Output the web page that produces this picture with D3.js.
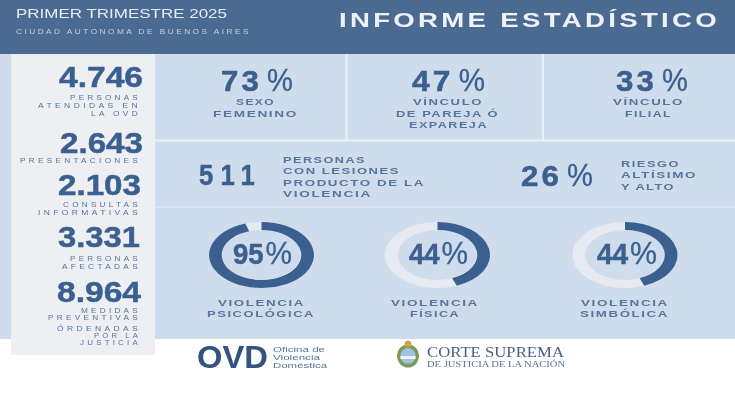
<!DOCTYPE html>
<html><head><meta charset="utf-8">
<script src="https://cdn.jsdelivr.net/npm/d3@7"></script>
<style>html,body{margin:0;background:#fff}svg{display:block}text{font-family:"Liberation Sans",sans-serif}</style>
</head><body><svg id="c" width="735" height="400"></svg>
<script>
const statValues=["4.746","2.643","2.103","3.331","8.964"];
const statLabels=[["PERSONAS","ATENDIDAS EN","LA OVD"],["PRESENTACIONES"],["CONSULTAS","INFORMATIVAS"],["PERSONAS","AFECTADAS"],["MEDIDAS","PREVENTIVAS","ÓRDENADAS","POR LA","JUSTICIA"]];
const topValues=[73,47,33];
const topLabels=[["SEXO","FEMENINO"],["VÍNCULO","DE PAREJA Ó","EXPAREJA"],["VÍNCULO","FILIAL"]];
const injuredValue=511;
const injuredLabel=["PERSONAS","CON LESIONES","PRODUCTO DE LA","VIOLENCIA"];
const riskValue=26;
const riskLabel=["RIESGO","ALTÍSIMO","Y ALTO"];
const ringValues=[95,44,44];
const ringLabels=[["VIOLENCIA","PSICOLÓGICA"],["VIOLENCIA","FÍSICA"],["VIOLENCIA","SIMBÓLICA"]];

const DARK="#3b6090",MID="#56759c",HEAD="#4a6a91",PANEL="#cfdcec",SIDE="#edeff3";
const svg=d3.select("#c");
const defs=svg.append("defs");
defs.append("filter").attr("id","b").append("feGaussianBlur").attr("stdDeviation",0.4);
const rect=(x,y,w,h,f)=>svg.append("rect").attr("x",x).attr("y",y).attr("width",w).attr("height",h).attr("fill",f);
rect(0,0,735,54,HEAD);
rect(0,54,735,285,PANEL);
rect(11,54,144,301,SIDE);
rect(155,139.5,580,2,"#eaf0f7");
rect(155,206.5,580,1.5,"#dce6f2");
rect(345.5,54,2,86,"#eaf0f7");
rect(542,54,2,86,"#eaf0f7");

const layer=svg.append("g").attr("filter","url(#b)");
function t(s,x0,x1,y,size,fill,weight,family){
  const n=layer.append("text").attr("x",x0).attr("y",y).attr("font-size",size).attr("fill",fill)
    .attr("font-weight",weight||"normal").attr("textLength",x1-x0).attr("lengthAdjust","spacingAndGlyphs").text(s);
  if(family)n.style("font-family",family);
  return n;
}
const heavy=n=>n.attr("stroke",DARK).attr("stroke-width",0.5);
const wide=(s,x0,x1,y,size,fill,weight,track)=>t(s,x0,x1,y,size,fill,weight||"bold").style("letter-spacing",(track==null?0.12:track)+"em");
function pct(v,x0,x1,y,size,split,gap){
  const w=x1-x0;
  heavy(wide(String(v),x0,x0+w*split,y,size,DARK,"bold",gap));
  t("%",x0+w*(split+(gap?0.07:0.03)),x1,y,size+2,DARK,"normal").attr("stroke",DARK).attr("stroke-width",0.3);
}
// header
t("PRIMER TRIMESTRE 2025",16,227,18,13,"#e6ecf3");
wide("CIUDAD AUTONOMA DE BUENOS AIRES",16,251,33.5,6.5,"#c5d2e2","normal",0.3);
wide("INFORME ESTADÍSTICO",339,720,27,21,"#eef2f7","bold",0.12);

// sidebar
const statSpan=[[59,143,87],[60,143,153],[58,141,195],[58,140,247],[57,141,302]];
statValues.forEach((v,i)=>heavy(t(v,statSpan[i][0],statSpan[i][1],statSpan[i][2],30,DARK,"bold")));
const statLabelSpan=[[[70,100],[38,107.5],[91,116]],[[20,163]],[[63,207],[38,215]],[[70,261],[62,269]],[[81,313],[48,320],[57,331],[94,338],[80,345]]];
statLabels.forEach((ls,i)=>ls.forEach((s,j)=>wide(s,statLabelSpan[i][j][0],141,statLabelSpan[i][j][1],6.5,MID,"normal",0.4)));

// top row
const topSpan=[[221,293],[412,485],[616,688]];
topValues.forEach((v,i)=>pct(v,topSpan[i][0],topSpan[i][1],91,29.5,0.57,0.1));
const topLabelSpan=[[[236,275,105],[213,298,117]],[[413,483,105],[396,499,117],[409,488,128]],[[613,684,105],[625,672,117]]];
topLabels.forEach((ls,i)=>ls.forEach((s,j)=>{const a=topLabelSpan[i][j];wide(s,a[0],a[1],a[2],9.5,MID);}));

// middle row
heavy(wide(String(injuredValue),199,262,185,30,DARK,"bold",0.28));
const injSpan=[[283,366,163],[283,400,174],[283,425,186],[283,372,197]];
injuredLabel.forEach((s,i)=>wide(s,injSpan[i][0],injSpan[i][1],injSpan[i][2],9.5,MID));
pct(riskValue,521,593,186,29.5,0.57,0.1);
const riskSpan=[[621,680,167],[621,697,178],[621,675,190]];
riskLabel.forEach((s,i)=>wide(s,riskSpan[i][0],riskSpan[i][1],riskSpan[i][2],9.5,MID));

// rings: circular arcs stretched to the ellipse of the picture
const angle=d3.scaleLinear().domain([0,100]).range([0,2*Math.PI]);
const arc=d3.arc().innerRadius(25).outerRadius(33);
const ringX=[261.5,437.5,625],ringTextSpan=[[233,292],[409,468],[597,657]];
const ringLabelSpan=[[[218,305,306],[207,315,317]],[[391,479,306],[410,460,317]],[[581,669,306],[580,669,317]]];
ringValues.forEach((v,i)=>{
  const g=layer.append("g").attr("transform",`translate(${ringX[i]},255) scale(1.59,1)`);
  g.append("path").attr("d",arc({startAngle:0,endAngle:2*Math.PI})).attr("fill","#e7ebf1");
  g.append("path").attr("d",arc({startAngle:angle(0),endAngle:angle(v)})).attr("fill",DARK);
  pct(v,ringTextSpan[i][0],ringTextSpan[i][1],264,29,0.52,0);
  ringLabels[i].forEach((s,j)=>{const a=ringLabelSpan[i][j];wide(s,a[0],a[1],a[2],9.5,MID);});
});

// logos
t("OVD",197,268,368,31,"#34527f","bold");
[["Oficina de",273,325,352],["Violencia",273,320,360],["Doméstica",273,327,368]].forEach(a=>t(a[0],a[1],a[2],a[3],8,"#5a7397"));
const em=layer.append("g").attr("transform","translate(408,356) scale(.95,1)");
em.append("circle").attr("r",11.5).attr("fill","#7a9a5c");
em.append("circle").attr("r",8).attr("fill","#9cc3e0");
em.append("rect").attr("x",-8).attr("y",0).attr("width",16).attr("height",3).attr("fill","#f2f2f2");
em.append("circle").attr("cy",-12).attr("r",3.5).attr("fill","#c9a24a");
t("CORTE SUPREMA",427,564,357,14,"#4a5f83","normal","'Liberation Serif',serif");
t("DE JUSTICIA DE LA NACIÓN",427,565,367,8,"#5a6f90","normal","'Liberation Serif',serif");
</script></body></html>
